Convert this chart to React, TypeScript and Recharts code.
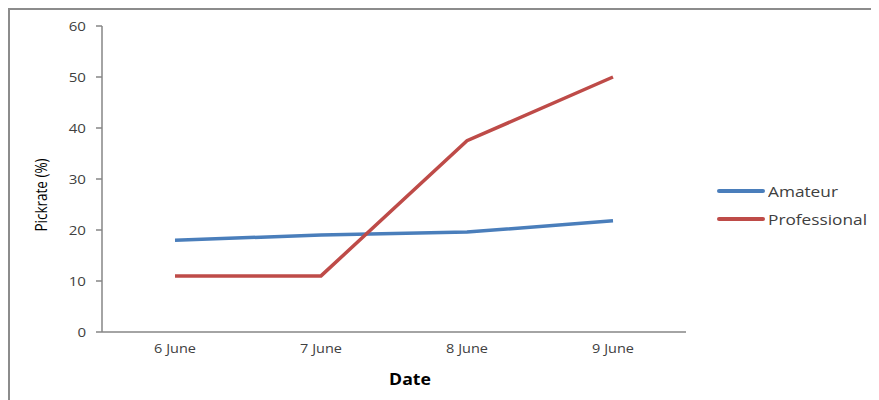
import React from "react";
import { LineChart, Line, XAxis, YAxis, Label } from "recharts";

const categories = ["6 June", "7 June", "8 June", "9 June"];
const amateur = [18, 19, 19.6, 21.8];
const professional = [11, 11, 37.5, 50];
const yTicks = [0, 10, 20, 30, 40, 50, 60];
const seriesNames = ["Amateur", "Professional"];
const seriesColors = ["#4a7ebb", "#be4b48"];

const data = categories.map((c, i) => ({ date: c, Amateur: amateur[i], Professional: professional[i] }));

const FONT = "'Open Sans', 'Liberation Sans', sans-serif";
const STRETCH = 1.16;

const XTick = (props: any) => {
  const { x, y, payload } = props;
  return (
    <g transform={`translate(${x},${y})`}>
      <text
        transform={`scale(${STRETCH},1)`}
        textAnchor="middle"
        dy="0.71em"
        fill="#404040"
        fontSize={12.5}
        fontFamily={FONT}
      >
        {payload.value}
      </text>
    </g>
  );
};

const YTick = (props: any) => {
  const { x, y, payload } = props;
  return (
    <g transform={`translate(${x},${y})`}>
      <text
        transform={`scale(${STRETCH},1)`}
        textAnchor="end"
        dy="0.355em"
        fill="#404040"
        fontSize={13}
        fontFamily={FONT}
      >
        {payload.value}
      </text>
    </g>
  );
};

const DateLabel = (props: any) => {
  const vb = props.viewBox || { x: 92, y: 322, width: 584, height: 60 };
  const cx = vb.x + vb.width / 2 + 16;
  const cy = vb.y + 52.5;
  return (
    <g transform={`translate(${cx},${cy})`}>
      <text
        transform={`scale(1.14,1)`}
        textAnchor="middle"
        fill="#000"
        fontSize={15.5}
        fontWeight="bold"
        fontFamily={FONT}
      >
        Date
      </text>
    </g>
  );
};

const PickLabel = (props: any) => {
  const vb = props.viewBox || { x: 0, y: 16, width: 92, height: 306 };
  const cx = vb.x + 31;
  const cy = vb.y + vb.height / 2 + 16;
  return (
    <text
      transform={`translate(${cx},${cy}) rotate(-90) scale(1,1.15)`}
      textAnchor="middle"
      dy="0.355em"
      fill="#000"
      fontSize={13.5}
      fontFamily={FONT}
    >
      Pickrate (%)
    </text>
  );
};

export default function App() {
  return (
    <div
      style={{
        position: "relative",
        width: 871,
        height: 392,
        borderTop: "2px solid #8c8c8c",
        borderLeft: "2px solid #8c8c8c",
        boxSizing: "border-box",
        background: "#fff",
      }}
    >
      <LineChart
        width={869}
        height={390}
        data={data}
        margin={{ top: 16, right: 193, bottom: 8, left: 0 }}
      >
        <XAxis
          dataKey="date"
          padding={{ left: 73, right: 73 }}
          axisLine={{ stroke: "#868686", strokeWidth: 1.5 }}
          tickLine={false}
          tickSize={0}
          tickMargin={12}
          height={60}
          tick={<XTick />}
        >
          <Label content={<DateLabel />} />
        </XAxis>
        <YAxis
          domain={[0, 60]}
          ticks={yTicks}
          width={92}
          axisLine={{ stroke: "#868686", strokeWidth: 1.5 }}
          tickLine={{ stroke: "#868686", strokeWidth: 1.5 }}
          tickSize={6}
          tickMargin={10}
          tick={<YTick />}
        >
          <Label content={<PickLabel />} />
        </YAxis>
        <Line
          dataKey="Amateur"
          stroke={seriesColors[0]}
          strokeWidth={3.5}
          dot={false}
          isAnimationActive={false}
        />
        <Line
          dataKey="Professional"
          stroke={seriesColors[1]}
          strokeWidth={3.5}
          dot={false}
          isAnimationActive={false}
        />
      </LineChart>
      <div
        style={{
          position: "absolute",
          left: 707,
          top: 167,
          fontFamily: FONT,
          fontSize: 15,
          color: "#404040",
        }}
      >
        {seriesNames.map((name, i) => (
          <div key={name} style={{ display: "flex", alignItems: "center", height: 28 }}>
            <div style={{ width: 48, height: 4, borderRadius: 2, background: seriesColors[i], marginRight: 3 }} />
            <span style={{ display: "inline-block", transform: "scaleX(1.15)", transformOrigin: "left center", whiteSpace: "nowrap" }}>
              {name}
            </span>
          </div>
        ))}
      </div>
    </div>
  );
}
